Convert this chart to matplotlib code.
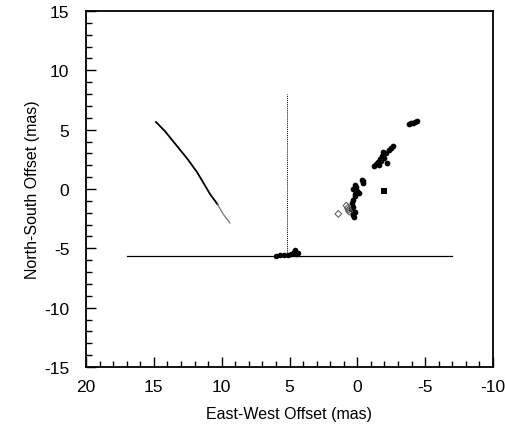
import matplotlib
matplotlib.use("Agg")
import matplotlib.pyplot as plt
from matplotlib.ticker import MultipleLocator

plt.rcParams['font.family'] = ['Liberation Sans', 'DejaVu Sans']
plt.rcParams['axes.unicode_minus'] = False

# horizontal baseline and vertical dotted line
hline_x = [17.0, -7.0]
hline_y = [-5.65, -5.65]
vline_x = [5.2, 5.2]
vline_y = [-5.65, 8.0]

# curved track
curve_x = [14.84, 14.2, 13.29, 12.5, 11.82, 10.86, 10.3, 9.90, 9.39]
curve_y = [5.64, 4.9, 3.62, 2.5, 1.43, -0.42, -1.3, -2.1, -2.86]

# black components
comp_x = [-3.8, -3.95, -4.1, -4.25, -4.4,
          -1.25, -1.4, -1.55, -1.7, -1.8, -2.0, -1.9, -2.1, -2.3, -2.45, -2.6, -2.2, -1.6, -1.75,
          -0.4, -0.45, -0.35,
          0.3, 0.1, 0.0, 0.2, -0.1, 0.2, 0.3, 0.15,
          0.4, 0.3, 0.5, 0.2, 0.35, 0.25, 0.3]
comp_y = [5.45, 5.52, 5.6, 5.68, 5.75,
          1.9, 2.1, 2.3, 2.5, 2.8, 2.6, 3.1, 3.0, 3.3, 3.45, 3.6, 2.2, 2.0, 2.4,
          0.65, 0.5, 0.75,
          0.0, 0.15, -0.2, -0.4, -0.3, -0.6, -0.9, 0.3,
          -1.2, -1.5, -1.7, -1.9, -2.2, -2.4, -2.1]
# isolated square component
sq_x = [-1.95]
sq_y = [-0.15]
# grey components
grey_x = [0.7, 0.6, 0.8, 0.65, 1.4]
grey_y = [-1.6, -1.9, -1.4, -1.75, -2.1]
# components on the baseline
base_x = [6.0, 5.7, 5.4, 5.1, 4.9, 4.7, 4.5, 4.6, 4.4]
base_y = [-5.65, -5.6, -5.55, -5.6, -5.45, -5.3, -5.5, -5.15, -5.4]

fig = plt.figure(figsize=(5.05, 4.31), dpi=100)
ax = fig.add_axes([86/505, 1-368/431, (493-86)/505, (368-12)/431])

ax.plot(hline_x, hline_y, color='black', lw=0.9)
ax.plot(vline_x, vline_y, color='black', lw=0.7, ls=(0, (1, 1)))
ax.plot(curve_x[:7], curve_y[:7], color='black', lw=1.3)
ax.plot(curve_x[6:], curve_y[6:], color='#777777', lw=0.9)
ax.scatter(comp_x, comp_y, s=17, color='black', marker='o', lw=0)
ax.scatter(sq_x, sq_y, s=15, color='black', marker='s', lw=0)
ax.scatter(grey_x, grey_y, s=12, facecolor='none', edgecolor='#555555', marker='D', lw=0.7)
ax.scatter(base_x, base_y, s=16, color='black', marker='o', lw=0)

ax.set_xlim(20, -10)
ax.set_ylim(-15, 15)
ax.xaxis.set_major_locator(MultipleLocator(5))
ax.xaxis.set_minor_locator(MultipleLocator(1))
ax.yaxis.set_major_locator(MultipleLocator(5))
ax.yaxis.set_minor_locator(MultipleLocator(1))
ax.tick_params(which='both', direction='in', top=False, right=False, labelsize=12.5)
ax.tick_params(axis='x', which='major', pad=9)
ax.tick_params(axis='y', which='major', pad=12)
ax.tick_params(which='major', length=7, width=1)
ax.tick_params(which='minor', length=4, width=1)
for s in ax.spines.values():
    s.set_linewidth(1.3)

ax.set_xlabel('East-West Offset (mas)', fontsize=11.5, labelpad=8)
ax.set_ylabel('North-South Offset (mas)', fontsize=11.5, labelpad=3)

fig.savefig('out.png', dpi=100)
